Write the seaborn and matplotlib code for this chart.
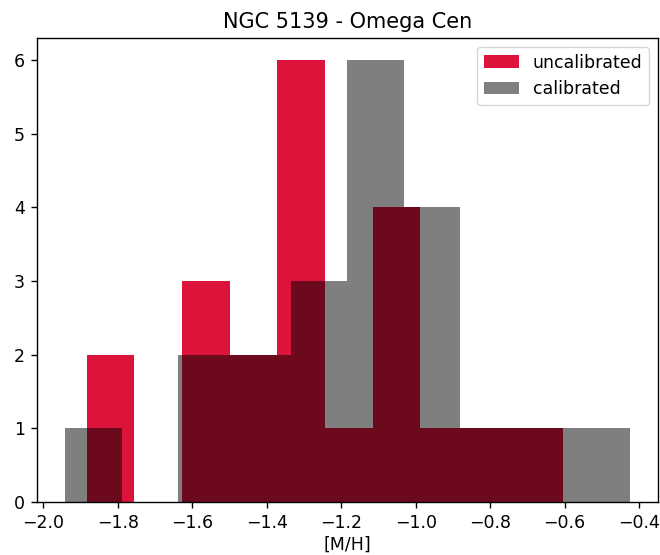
import numpy as np
import pandas as pd
import matplotlib
matplotlib.use("Agg")
import matplotlib.pyplot as plt
import seaborn as sns

# Data
uncal_counts = [2, 0, 3, 2, 6, 1, 4, 1, 1, 1]
uncal_range = (-1.883, -0.603)
cal_counts = [1, 0, 2, 2, 3, 6, 4, 1, 1, 1]
cal_range = (-1.941, -0.425)
series_labels = ["uncalibrated", "calibrated"]

s = 1.25  # reference rendered at ~125 dpi
plt.rcParams.update({
    "font.size": 10 * s,
    "axes.titlesize": 12 * s,
    "axes.labelsize": 10 * s,
    "xtick.labelsize": 10 * s,
    "ytick.labelsize": 10 * s,
    "legend.fontsize": 10 * s,
    "axes.linewidth": 0.8 * s,
    "xtick.major.size": 3.5 * s,
    "ytick.major.size": 3.5 * s,
    "xtick.major.width": 0.8 * s,
    "ytick.major.width": 0.8 * s,
    "xtick.major.pad": 3.5 * s,
    "ytick.major.pad": 3.5 * s,
    "axes.titlepad": 6 * s,
    "axes.labelpad": 2.5,
})

def centers(rng, n):
    e = np.linspace(rng[0], rng[1], n + 1)
    return (e[:-1] + e[1:]) / 2

udf = pd.DataFrame({"mh": centers(uncal_range, len(uncal_counts)), "n": uncal_counts})
cdf = pd.DataFrame({"mh": centers(cal_range, len(cal_counts)), "n": cal_counts})

fig = plt.figure(figsize=(6.6, 5.55), dpi=100)
ax = fig.add_axes([37 / 660, 1 - 502 / 555, (658 - 37) / 660, (502 - 38) / 555])

sns.histplot(data=udf, x="mh", weights="n", bins=len(uncal_counts),
             binrange=uncal_range, ax=ax, color="crimson",
             alpha=1.0, linewidth=0, label=series_labels[0])
sns.histplot(data=cdf, x="mh", weights="n", bins=len(cal_counts),
             binrange=cal_range, ax=ax, color="black",
             alpha=0.5, linewidth=0, label=series_labels[1])

ax.set_ylabel("")
ax.set_xlabel("[M/H]")
ax.set_title("NGC 5139 - Omega Cen")
ax.set_xlim(cal_range[0] - 0.05 * (cal_range[1] - cal_range[0]),
            cal_range[1] + 0.05 * (cal_range[1] - cal_range[0]))
ax.set_ylim(0, 6.3)
ax.legend(loc="upper right")

fig.savefig("out.png", dpi=100)
